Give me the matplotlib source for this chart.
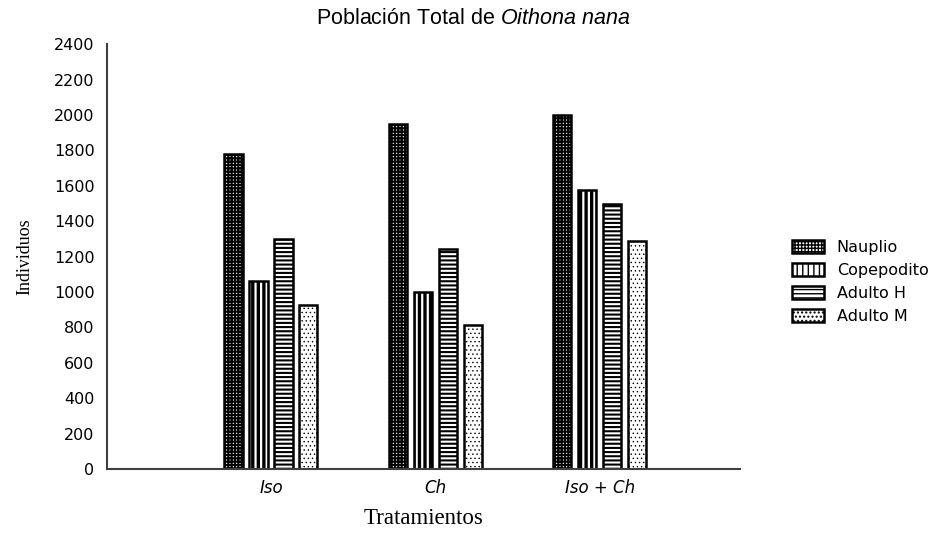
import matplotlib
matplotlib.use("Agg")
import matplotlib.pyplot as plt
import numpy as np

categories = ["Iso", "Ch", "Iso + Ch"]
series_names = ["Nauplio", "Copepodito", "Adulto H", "Adulto M"]
nauplio = [1780, 1950, 2000]
copepodito = [1065, 1000, 1575]
adulto_h = [1300, 1245, 1500]
adulto_m = [925, 815, 1290]
yticks = [0, 200, 400, 600, 800, 1000, 1200, 1400, 1600, 1800, 2000, 2200, 2400]

values = [nauplio, copepodito, adulto_h, adulto_m]
hatches = ["+++++", "|||", "----", "...."]
hatch_lw = [1.5, 2.4, 1.5, 0.5]

plt.rcParams["font.family"] = ["DejaVu Sans"]
plt.rcParams["mathtext.fontset"] = "custom"
plt.rcParams["mathtext.rm"] = "Liberation Sans"
plt.rcParams["mathtext.it"] = "Liberation Sans:italic"

fig = plt.figure(figsize=(9.47, 5.33), dpi=100)
ax = fig.add_axes([0.113, 0.120, 0.668, 0.797])

x = np.arange(len(categories))
width = 0.11
offsets = [-0.23, -0.078, 0.074, 0.226]
handles = []
for i, (vals, h, hl) in enumerate(zip(values, hatches, hatch_lw)):
    with plt.rc_context({"hatch.linewidth": hl}):
        bars = ax.bar(x + offsets[i], vals, width, facecolor="white",
                      edgecolor="black", hatch=h, linewidth=1.8,
                      label=series_names[i])
        for b in bars:
            if hasattr(b, "set_hatch_linewidth"):
                b.set_hatch_linewidth(hl)
    handles.append(bars)

ax.set_xlim(-1.0, 2.85)
ax.set_ylim(0, 2400)
ax.set_yticks(yticks)
ax.set_yticklabels([str(v) for v in yticks], fontsize=11.5)
ax.set_xticks(x)
ax.set_xticklabels(categories, fontstyle="oblique", fontsize=12)
ax.tick_params(axis="y", length=0, pad=9)
ax.tick_params(axis="x", length=0, pad=7)
for s in ["top", "right"]:
    ax.spines[s].set_visible(False)
for s in ["left", "bottom"]:
    ax.spines[s].set_color("#404040")
    ax.spines[s].set_linewidth(1.5)

ax.set_xlabel("Tratamientos", fontfamily="Liberation Serif", fontsize=16.5,
              labelpad=8)
ax.set_ylabel("Individuos", fontfamily="Liberation Serif", fontsize=13,
              labelpad=15)
fig.text(0.5, 0.966, r"Población Total de $\it{Oithona\ nana}$",
         ha="center", va="center", fontfamily="Liberation Sans", fontsize=15.5)

leg = ax.legend(handles=handles, loc="center left",
                bbox_to_anchor=(1.06, 0.44), frameon=False,
                prop={"size": 11.5},
                handlelength=2.0, handleheight=0.8, labelspacing=0.5,
                handletextpad=0.8)

fig.savefig("out.png", dpi=100)
